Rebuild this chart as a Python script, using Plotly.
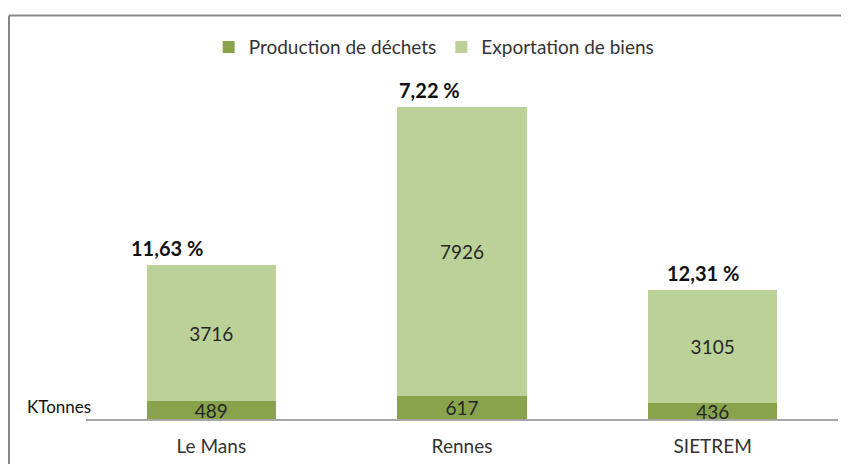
import plotly.graph_objects as go

categories = ["Le Mans", "Rennes", "SIETREM"]
production_dechets = [489, 617, 436]
exportation_biens = [3716, 7926, 3105]
pourcentages = ["11,63 %", "7,22 %", "12,31 %"]

dark = "#88A34C"
light = "#BCD198"
font_family = "Lato, 'Open Sans', sans-serif"

fig = go.Figure()
fig.add_trace(go.Bar(
    x=categories, y=production_dechets, name="Production de déchets",
    marker=dict(color=dark, line=dict(width=0)),
    text=[str(v) for v in production_dechets], textposition="inside",
    insidetextanchor="middle", textangle=0, constraintext="none",
    textfont=dict(size=19, color="#262626", family=font_family),
))
fig.add_trace(go.Bar(
    x=categories, y=exportation_biens, name="Exportation de biens",
    marker=dict(color=light, line=dict(width=0)),
    text=[str(v) for v in exportation_biens], textposition="inside",
    insidetextanchor="middle", textangle=0, constraintext="none",
    textfont=dict(size=19, color="#262626", family=font_family),
))

totals = [a + b for a, b in zip(production_dechets, exportation_biens)]
xshifts = [-44, -33, -10]
for cat, tot, pct, xs in zip(categories, totals, pourcentages, xshifts):
    fig.add_annotation(x=cat, y=tot, text=f"<b>{pct}</b>", showarrow=False,
                       yanchor="bottom", yshift=3, xshift=xs,
                       font=dict(size=20, color="#111111", family=font_family))

fig.add_annotation(xref="paper", yref="paper", x=-0.081, y=0.036,
                   text="KTonnes", showarrow=False, xanchor="left", yanchor="middle",
                   font=dict(size=17, color="#111111", family=font_family))

# chart border (left and top)
fig.add_shape(type="line", xref="paper", yref="paper", x0=-0.1024, x1=-0.1024,
              y0=-0.2, y1=1.124, line=dict(color="#868686", width=2))
fig.add_shape(type="line", xref="paper", yref="paper", x0=-0.1024, x1=1.05,
              y0=1.124, y1=1.124, line=dict(color="#868686", width=2))

fig.update_layout(
    width=849, height=464,
    margin=dict(l=78, r=19, t=52, b=53),
    barmode="stack", bargap=0.485,
    plot_bgcolor="white", paper_bgcolor="white",
    font=dict(family=font_family, size=19, color="#333333"),
    showlegend=True,
    legend=dict(orientation="h", x=0.463, y=1.036, xanchor="center", yanchor="middle",
                font=dict(size=19, color="#333333", family=font_family),
                itemsizing="constant", traceorder="normal", itemwidth=30),
    xaxis=dict(showline=True, linecolor="#A6A6A6", linewidth=1.5, ticks="",
               ticklabelstandoff=9,
               tickfont=dict(size=19, color="#333333"), showgrid=False),
    yaxis=dict(range=[0, 9830], visible=False, showgrid=False, zeroline=False),
)

fig.write_html("out.html")
